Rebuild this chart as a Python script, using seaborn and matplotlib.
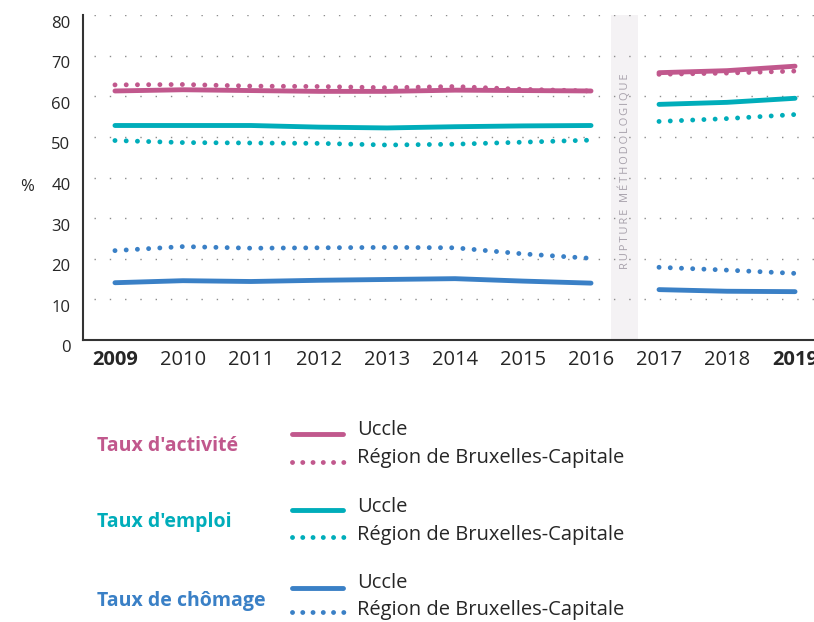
import matplotlib
matplotlib.use("Agg")
import matplotlib.pyplot as plt
import matplotlib.transforms as mtransforms
from matplotlib.lines import Line2D
import seaborn as sns

# data (%)
years_a = [2009, 2010, 2011, 2012, 2013, 2014, 2015, 2016]
years_b = [2017, 2018, 2019]

act_uccle_a = [61.3, 61.6, 61.4, 61.2, 61.2, 61.5, 61.4, 61.3]
act_uccle_b = [65.8, 66.3, 67.4]
act_region_a = [62.8, 62.9, 62.5, 62.4, 62.1, 62.4, 61.7, 61.3]
act_region_b = [65.4, 65.7, 66.2]

emp_uccle_a = [52.8, 52.8, 52.8, 52.4, 52.2, 52.5, 52.7, 52.8]
emp_uccle_b = [58.0, 58.5, 59.5]
emp_region_a = [49.1, 48.6, 48.5, 48.4, 48.0, 48.2, 48.7, 49.2]
emp_region_b = [53.8, 54.5, 55.5]

cho_uccle_a = [14.1, 14.6, 14.4, 14.7, 14.9, 15.1, 14.5, 14.0]
cho_uccle_b = [12.4, 12.0, 11.9]
cho_region_a = [22.0, 23.0, 22.6, 22.7, 22.8, 22.7, 21.2, 20.1]
cho_region_b = [17.9, 17.2, 16.4]

groups = ["Taux d'activité", "Taux d'emploi", "Taux de chômage"]
series_names = ["Uccle", "Région de Bruxelles-Capitale"]
rupture_label = "RUPTURE MÉTHODOLOGIQUE"

PINK = "#c1588d"
TEAL = "#00adba"
BLUE = "#3a80c6"
colors = [PINK, TEAL, BLUE]

sns.set_style("white")
plt.rcParams['font.family'] = ['Open Sans', 'DejaVu Sans']

fig = plt.figure(figsize=(8.14, 6.22), dpi=100)
ax = fig.add_axes([83 / 814, 1 - 340 / 622, (827 - 83) / 814, 325 / 622])

dotted = (0, (0.01, 2.3))
series = [
    (act_uccle_a, act_uccle_b, act_region_a, act_region_b, PINK),
    (emp_uccle_a, emp_uccle_b, emp_region_a, emp_region_b, TEAL),
    (cho_uccle_a, cho_uccle_b, cho_region_a, cho_region_b, BLUE),
]

# rupture band, letter-spaced label
ax.axvspan(2016.29, 2016.69, color="#f4f2f4", zorder=0, lw=0)
spaced = "\u2009".join(rupture_label)
ax.text(2016.49, 41.5, spaced, rotation=90, ha="center", va="center",
        fontsize=8, color="#a7a1ab")

# dotted horizontal grid
for v in range(10, 90, 10):
    ax.axhline(v, xmin=0.015, color="#8c8c8c", lw=1.0, linestyle=(0, (1, 10)), zorder=1)

for ua, ub, ra, rb, c in series:
    for xs, ys in [(years_a, ra), (years_b, rb)]:
        sns.lineplot(x=xs, y=ys, ax=ax, color=c, lw=3.5, linestyle=dotted,
                     dash_capstyle="round", zorder=3)
    for xs, ys in [(years_a, ua), (years_b, ub)]:
        sns.lineplot(x=xs, y=ys, ax=ax, color=c, lw=3.5,
                     solid_capstyle="round", zorder=4)

ax.set_xlim(2008.53, 2019.47)
ax.set_ylim(0, 80)
ax.set_xticks(years_a + years_b)
ax.set_xticklabels([str(y) for y in years_a + years_b], fontsize=14.5)
for lab in ax.get_xticklabels():
    if lab.get_text() in ("2009", "2019"):
        lab.set_fontweight("bold")
ax.set_yticks(range(0, 90, 10))
ax.set_yticklabels([str(v) for v in range(0, 90, 10)], fontsize=12)
ax.tick_params(axis="both", length=0)
ax.tick_params(axis="x", pad=7)
ax.tick_params(axis="y", pad=9)
offset = mtransforms.ScaledTranslation(0, -0.065, fig.dpi_scale_trans)
for lab in ax.get_yticklabels():
    lab.set_transform(lab.get_transform() + offset)
ax.set_xlabel("")
ax.set_ylabel("")
fig.text(27 / 814, 1 - 187 / 622, "%", fontsize=12, ha="center", va="center")

sns.despine(ax=ax, top=True, right=True)
for side in ("left", "bottom"):
    ax.spines[side].set_color("#333333")
    ax.spines[side].set_linewidth(1.5)

# legend drawn by hand
legend_dots = (0, (0.01, 2.1))
rows = [(446, 434, 462, 430, 458), (522, 510, 537, 507, 535), (601, 588, 612, 583, 610)]
for g, c, (gy, sy, dy, ty1, ty2) in zip(groups, colors, rows):
    fig.text(97 / 814, 1 - gy / 622, g, color=c, fontsize=14, fontweight="bold",
             ha="left", va="center")
    fig.add_artist(Line2D([292 / 814, 343 / 814], [1 - sy / 622] * 2, color=c, lw=3.5,
                          solid_capstyle="round", transform=fig.transFigure))
    fig.add_artist(Line2D([292 / 814, 344 / 814], [1 - dy / 622] * 2, color=c, lw=3.5,
                          linestyle=legend_dots, dash_capstyle="round",
                          transform=fig.transFigure))
    fig.text(357 / 814, 1 - ty1 / 622, series_names[0], fontsize=14.5, ha="left", va="center")
    fig.text(357 / 814, 1 - ty2 / 622, series_names[1], fontsize=14.5, ha="left", va="center")

fig.savefig("out.png", dpi=100)
